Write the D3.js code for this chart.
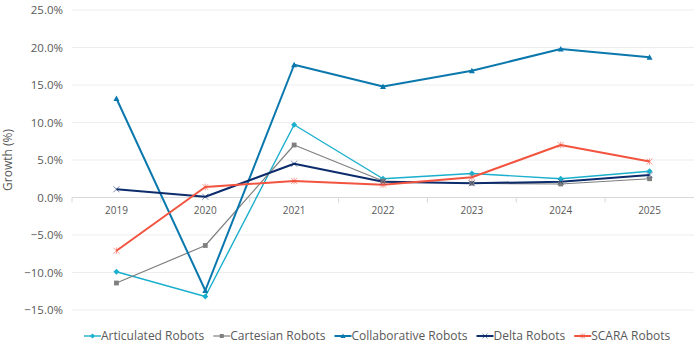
<!DOCTYPE html>
<html>
<head>
<meta charset="utf-8">
<script src="https://cdn.jsdelivr.net/npm/d3@7"></script>
<style>
  body { margin: 0; background: #fff; }
  text { font-family: "Open Sans", "Noto Sans", sans-serif; }
</style>
</head>
<body>
<div id="chart"></div>
<script>
// data
const years = ["2019", "2020", "2021", "2022", "2023", "2024", "2025"];
const seriesNames = ["Articulated Robots", "Cartesian Robots", "Collaborative Robots", "Delta Robots", "SCARA Robots"];
const articulated = [-9.9, -13.2, 9.7, 2.5, 3.2, 2.5, 3.5];
const cartesian = [-11.4, -6.4, 7.0, 2.2, 1.9, 1.8, 2.5];
const collaborative = [13.2, -12.4, 17.7, 14.8, 16.9, 19.8, 18.7];
const delta = [1.1, 0.1, 4.5, 2.1, 1.9, 2.1, 3.0];
const scara = [-7.1, 1.4, 2.2, 1.7, 2.7, 7.0, 4.8];
const yTicks = [-15, -10, -5, 0, 5, 10, 15, 20, 25];

const series = [
  { name: seriesNames[0], values: articulated, color: "#1aafcc", width: 1.4, marker: "diamond" },
  { name: seriesNames[1], values: cartesian, color: "#7f7f7f", width: 1.2, marker: "square" },
  { name: seriesNames[2], values: collaborative, color: "#0b78ad", width: 2, marker: "triangle" },
  { name: seriesNames[3], values: delta, color: "#0c2c6c", width: 2, marker: "x" },
  { name: seriesNames[4], values: scara, color: "#f2543f", width: 2, marker: "star" }
];

const W = 700, H = 350;
let margin = { top: 10, right: 6, bottom: 40, left: 72 };

let svg = d3.select("#chart").append("svg")
  .attr("width", W).attr("height", H);

let x = d3.scaleBand()
  .domain(years)
  .range([margin.left, W - margin.right]);

let y = d3.scaleLinear()
  .domain([-15, 25])
  .range([310, margin.top]);

// horizontal grid
svg.append("g")
  .selectAll("line")
  .data(yTicks)
  .join("line")
  .attr("x1", margin.left).attr("x2", W - margin.right)
  .attr("y1", d => y(d)).attr("y2", d => y(d))
  .attr("stroke", d => d === 0 ? "#d9d9d9" : "#ededed")
  .attr("stroke-width", 1.2);

// y tick labels
svg.append("g")
  .selectAll("text")
  .data(yTicks)
  .join("text")
  .attr("x", margin.left - 9)
  .attr("y", d => y(d))
  .attr("dy", "0.35em")
  .attr("text-anchor", "end")
  .attr("fill", "#595959")
  .style("font-size", "11.5px")
  .text(d => d3.format(".1f")(d) + "%");

// category axis at zero, labels below
let xAxis = svg.append("g")
  .attr("transform", "translate(0," + y(0) + ")")
  .call(d3.axisBottom(x).tickSize(0).tickPadding(9));
xAxis.select(".domain").remove();
xAxis.selectAll("text")
  .attr("fill", "#595959")
  .style("font-size", "10px");

// small tick marks between categories
svg.append("g")
  .selectAll("line")
  .data(years)
  .join("line")
  .attr("x1", d => x(d)).attr("x2", d => x(d))
  .attr("y1", y(0)).attr("y2", y(0) + 5)
  .attr("stroke", "#d9d9d9");

// y axis title
svg.append("text")
  .attr("transform", "translate(12," + ((y(25) + y(-15)) / 2) + ") rotate(-90)")
  .attr("text-anchor", "middle")
  .attr("fill", "#595959")
  .style("font-size", "12px")
  .text("Growth (%)");

function drawMarker(g, type, color, size) {
  let s = size;
  if (type === "diamond") {
    g.append("path").attr("d", `M0,${-s}L${s},0L0,${s}L${-s},0Z`).attr("fill", color);
  } else if (type === "square") {
    g.append("rect").attr("x", -s * 0.8).attr("y", -s * 0.8)
      .attr("width", s * 1.6).attr("height", s * 1.6).attr("fill", color);
  } else if (type === "triangle") {
    g.append("path").attr("d", `M0,${-s}L${s},${s * 0.8}L${-s},${s * 0.8}Z`).attr("fill", color);
  } else if (type === "x") {
    g.append("path").attr("d", `M${-s},${-s}L${s},${s}M${-s},${s}L${s},${-s}`)
      .attr("stroke", color).attr("stroke-width", 1).attr("opacity", 0.55);
  } else if (type === "star") {
    g.append("path").attr("d", `M${-s},${-s}L${s},${s}M${-s},${s}L${s},${-s}M0,${-s * 1.1}L0,${s * 1.1}`)
      .attr("stroke", color).attr("stroke-width", 1).attr("opacity", 0.55);
  }
}

let line = d3.line()
  .x((d, i) => x(years[i]) + x.bandwidth() / 2)
  .y(d => y(d));

series.forEach(s => {
  svg.append("path")
    .datum(s.values)
    .attr("d", line)
    .attr("fill", "none")
    .attr("stroke", s.color)
    .attr("stroke-width", s.width)
    .attr("stroke-linejoin", "round");
});

series.forEach(s => {
  s.values.forEach((v, i) => {
    let g = svg.append("g")
      .attr("transform", "translate(" + (x(years[i]) + x.bandwidth() / 2) + "," + y(v) + ")");
    drawMarker(g, s.marker, s.color, 3);
  });
});

// legend
let legend = svg.append("g").attr("transform", "translate(0,336)");
let lx = 84;
series.forEach(s => {
  let item = legend.append("g").attr("transform", "translate(" + lx + ",0)");
  item.append("line")
    .attr("x1", 0).attr("x2", 17)
    .attr("stroke", s.color).attr("stroke-width", s.width);
  let mg = item.append("g").attr("transform", "translate(8.5,0)");
  drawMarker(mg, s.marker, s.color, 2.5);
  let t = item.append("text")
    .attr("x", 17)
    .attr("dy", "0.35em")
    .attr("fill", "#595959")
    .style("font-size", "12px")
    .text(s.name);
  lx += 17 + t.node().getComputedTextLength() + 9;
});
</script>
</body>
</html>
